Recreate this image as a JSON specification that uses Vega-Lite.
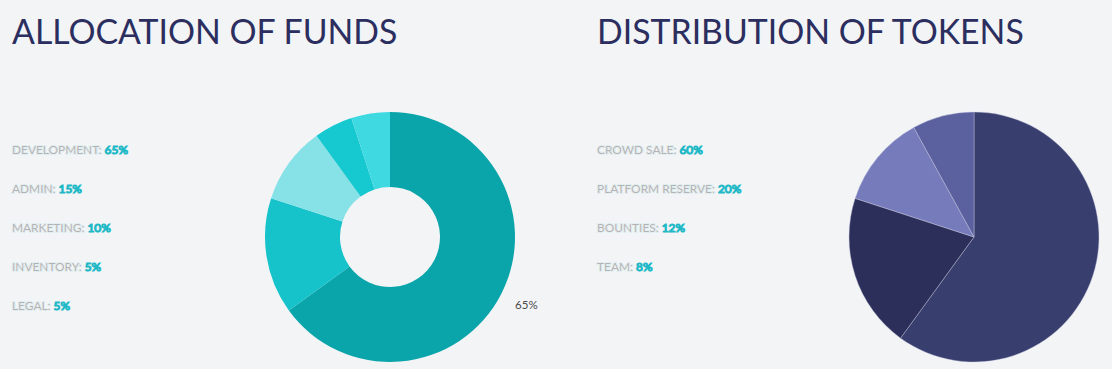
{
  "$schema": "https://vega.github.io/schema/vega-lite/v6.json",
  "background": "#f2f4f6",
  "padding": {"left": 12, "top": 17, "right": 13, "bottom": 17},
  "bounds": "flush",
  "spacing": 20,
  "config": {"view": {"stroke": null}},
  "datasets": {
    "funds": [
      {"name": "DEVELOPMENT", "value": 65, "rank": 1, "label": "DEVELOPMENT:", "full": "DEVELOPMENT: 65%", "pct": "65%"},
      {"name": "ADMIN", "value": 15, "rank": 2, "label": "ADMIN:", "full": "ADMIN: 15%", "pct": "15%"},
      {"name": "MARKETING", "value": 10, "rank": 3, "label": "MARKETING:", "full": "MARKETING: 10%", "pct": "10%"},
      {"name": "INVENTORY", "value": 5, "rank": 4, "label": "INVENTORY:", "full": "INVENTORY: 5%", "pct": "5%"},
      {"name": "LEGAL", "value": 5, "rank": 5, "label": "LEGAL:", "full": "LEGAL: 5%", "pct": "5%"}
    ],
    "tokens": [
      {"name": "CROWD SALE", "value": 60, "rank": 1, "label": "CROWD SALE:", "full": "CROWD SALE: 60%", "pct": "60%"},
      {"name": "PLATFORM RESERVE", "value": 20, "rank": 2, "label": "PLATFORM RESERVE:", "full": "PLATFORM RESERVE: 20%", "pct": "20%"},
      {"name": "BOUNTIES", "value": 12, "rank": 3, "label": "BOUNTIES:", "full": "BOUNTIES: 12%", "pct": "12%"},
      {"name": "TEAM", "value": 8, "rank": 4, "label": "TEAM:", "full": "TEAM: 8%", "pct": "8%"}
    ],
    "empty": []
  },
  "resolve": {"scale": {"color": "independent", "theta": "independent", "y": "independent"}},
  "hconcat": [
    {
      "title": {"text": "ALLOCATION OF FUNDS", "anchor": "start", "frame": "group", "font": "Lato", "fontSize": 33.8, "fontWeight": "normal", "color": "#2b2e5e", "offset": 61},
      "width": 233,
      "height": {"step": 39},
      "data": {"name": "funds"},
      "encoding": {
        "y": {"field": "name", "type": "nominal", "sort": {"field": "rank", "op": "min"}, "axis": null, "scale": {"type": "point", "padding": 0.97}},
        "x": {"value": 0}
      },
      "layer": [
        {"mark": {"type": "text", "align": "left", "baseline": "middle", "font": "Lato", "fontSize": 11.9, "fill": "#22b9c7", "stroke": "#22b9c7", "strokeWidth": 1.1}, "encoding": {"text": {"field": "full"}}},
        {"mark": {"type": "text", "align": "left", "baseline": "middle", "font": "Lato", "fontSize": 11.9, "fill": "#f2f4f6", "stroke": "#f2f4f6", "strokeWidth": 1.7}, "encoding": {"text": {"field": "label"}}},
        {"mark": {"type": "text", "align": "left", "baseline": "middle", "font": "Lato", "fontSize": 11.9, "fill": "#b3b3b3"}, "encoding": {"text": {"field": "label"}}}
      ]
    },
    {
      "width": 250,
      "height": 250,
      "data": {"name": "funds"},
      "encoding": {
        "theta": {"field": "value", "type": "quantitative", "stack": true},
        "order": {"field": "rank", "type": "quantitative"}
      },
      "layer": [
        {
          "mark": {"type": "arc", "outerRadius": 125, "innerRadius": 50},
          "encoding": {
            "color": {"field": "name", "type": "nominal", "legend": null,
              "scale": {"domain": ["DEVELOPMENT", "ADMIN", "MARKETING", "INVENTORY", "LEGAL"], "range": ["#0aa5ab", "#17c3cb", "#86e2e7", "#16c8d0", "#3fd9e2"]}}
          }
        },
        {
          "mark": {"type": "text", "radius": 153, "font": "Lato", "fontSize": 11.5, "fill": "#4a4a4a"},
          "encoding": {
            "text": {"field": "pct"},
            "opacity": {"condition": {"test": "datum.value < 50", "value": 0}, "value": 1}
          }
        }
      ]
    },
    {
      "width": 42,
      "height": 250,
      "data": {"name": "empty"},
      "mark": "point"
    },
    {
      "title": {"text": "DISTRIBUTION OF TOKENS", "anchor": "start", "frame": "group", "font": "Lato", "fontSize": 33.8, "fontWeight": "normal", "color": "#2b2e5e", "offset": 61},
      "width": 232,
      "height": {"step": 39},
      "data": {"name": "tokens"},
      "encoding": {
        "y": {"field": "name", "type": "nominal", "sort": {"field": "rank", "op": "min"}, "axis": null, "scale": {"type": "point", "padding": 0.97}},
        "x": {"value": 0}
      },
      "layer": [
        {"mark": {"type": "text", "align": "left", "baseline": "middle", "font": "Lato", "fontSize": 11.9, "fill": "#22b9c7", "stroke": "#22b9c7", "strokeWidth": 1.1}, "encoding": {"text": {"field": "full"}}},
        {"mark": {"type": "text", "align": "left", "baseline": "middle", "font": "Lato", "fontSize": 11.9, "fill": "#f2f4f6", "stroke": "#f2f4f6", "strokeWidth": 1.7}, "encoding": {"text": {"field": "label"}}},
        {"mark": {"type": "text", "align": "left", "baseline": "middle", "font": "Lato", "fontSize": 11.9, "fill": "#b3b3b3"}, "encoding": {"text": {"field": "label"}}}
      ]
    },
    {
      "width": 250,
      "height": 250,
      "data": {"name": "tokens"},
      "mark": {"type": "arc", "outerRadius": 125, "stroke": "#c9cbe0", "strokeWidth": 0.4},
      "encoding": {
        "theta": {"field": "value", "type": "quantitative", "stack": true},
        "order": {"field": "rank", "type": "quantitative"},
        "color": {"field": "name", "type": "nominal", "legend": null,
          "scale": {"domain": ["CROWD SALE", "PLATFORM RESERVE", "BOUNTIES", "TEAM"], "range": ["#383f6f", "#2c2f5a", "#767bbb", "#5b609f"]}}
      }
    }
  ]
}
